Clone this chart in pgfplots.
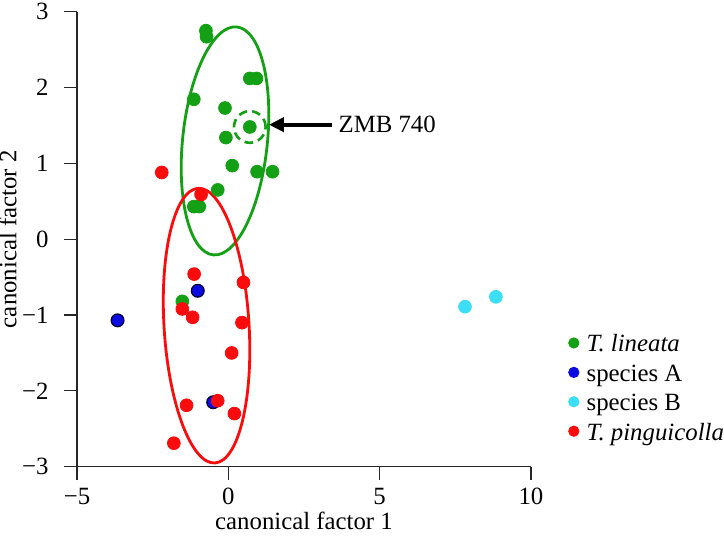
\documentclass[border=0pt]{standalone}
\usepackage{pgfplots}
\pgfplotsset{compat=1.18}
\usepackage{fontspec}
\setmainfont{Liberation Serif}
\usetikzlibrary{arrows.meta}
\definecolor{cgreen}{RGB}{20,160,20}
\definecolor{cblue}{RGB}{10,10,225}
\definecolor{ccyan}{RGB}{60,222,245}
\definecolor{cred}{RGB}{250,12,12}
\begin{document}
\begin{tikzpicture}[font=\fontsize{12.4}{14.5}\selectfont]
\begin{axis}[
  at={(0,0)}, anchor=south west,
  scale only axis, width=227pt, height=227.5pt,
  xmin=-5, xmax=10, ymin=-3, ymax=3,
  axis lines=left,
  axis line style={-, line width=0.6pt, black!85},
  xtick={-5,0,5,10}, ytick={-3,-2,-1,0,1,2,3},
  xticklabels={−5,0,5,10},
  yticklabels={−3,−2,−1,0,1,2,3},
  tick align=outside, major tick length=6.5pt,
  tick style={line width=0.6pt, black!85},
  xticklabel style={anchor=north, inner sep=0pt, yshift=-4pt},
  yticklabel style={anchor=east, inner sep=0pt, xshift=-7.5pt},
  clip=false,
  xlabel={canonical factor 1}, ylabel={canonical factor 2},
  xlabel style={at={(axis description cs:0.5,-0.137)}, anchor=base, inner sep=0pt},
  ylabel style={at={(axis description cs:-0.1333,0.5)}, anchor=base, inner sep=0pt},
  legend style={at={(axis cs:11.23,-1.25)}, anchor=north west, draw=none, fill=none,
    inner sep=0pt, outer sep=0pt, row sep=2.7pt,
    nodes={inner sep=0pt, text height=9pt, text depth=3pt, anchor=base west}},
  legend cell align=left,
  legend image code/.code={\fill[#1] (0pt,4.5pt) circle (2.6pt); \path[draw=none, fill=none] (-2.6pt,4.5pt) rectangle (6.4pt,4.6pt);},
]
% ellipses
\draw[cgreen, line width=1.4pt] (axis cs:-0.11,1.296) circle [x radius=57.3pt, y radius=21.2pt, rotate=84.1];
\draw[cred, line width=1.4pt] (axis cs:-0.72,-1.14) circle [x radius=68.8pt, y radius=21.25pt, rotate=93.5];

\addplot[only marks, mark=*, mark size=3.2pt, cgreen, mark options={fill=cgreen, draw=cgreen}] coordinates {
(-0.74,2.75) (-0.72,2.67) (-1.14,1.845) (0.71,2.12) (0.93,2.12)
(-0.11,1.73) (0.71,1.48) (-0.08,1.34) (0.13,0.97) (0.95,0.89)
(1.46,0.89) (-0.35,0.65) (-1.14,0.43) (-0.96,0.43) (-1.52,-0.82)
};
\addlegendentry{\textit{T. lineata}}
\addplot[only marks, mark=*, mark size=3.2pt, cblue, mark options={fill=cblue, draw=black!80!blue, line width=0.6pt}] coordinates {
(-1.01,-0.68) (-3.66,-1.07) (-0.5,-2.15)
};
\addlegendentry{species A}
\addplot[only marks, mark=*, mark size=3.2pt, ccyan, mark options={fill=ccyan, draw=ccyan}] coordinates {
(7.82,-0.89) (8.84,-0.76)
};
\addlegendentry{species B}
\addplot[only marks, mark=*, mark size=3.2pt, cred, mark options={fill=cred, draw=cred}] coordinates {
(-2.2,0.88) (-0.9,0.59) (-1.13,-0.46) (-1.52,-0.92) (-1.18,-1.03)
(0.5,-0.57) (0.45,-1.10) (0.11,-1.50) (-0.35,-2.13) (-1.38,-2.19)
(0.2,-2.30) (-1.8,-2.69)
};
\addlegendentry{\textit{T. pinguicolla}}

% annotation
\draw[cgreen, line width=1.3pt, dash pattern=on 4.3pt off 2.6pt] (axis cs:0.71,1.48) circle (7.9pt);
\draw[black, line width=2pt, -{Triangle[length=7.5pt,width=7pt]}] (axis cs:3.42,1.51) -- (axis cs:1.34,1.51);
\node[anchor=west, inner sep=0pt] at (axis cs:3.63,1.51) {ZMB 740};
\end{axis}
\pgfresetboundingbox
\path[use as bounding box] (-38.5pt,-34.65pt) rectangle (323.5pt,233.35pt);
\end{tikzpicture}
\end{document}
